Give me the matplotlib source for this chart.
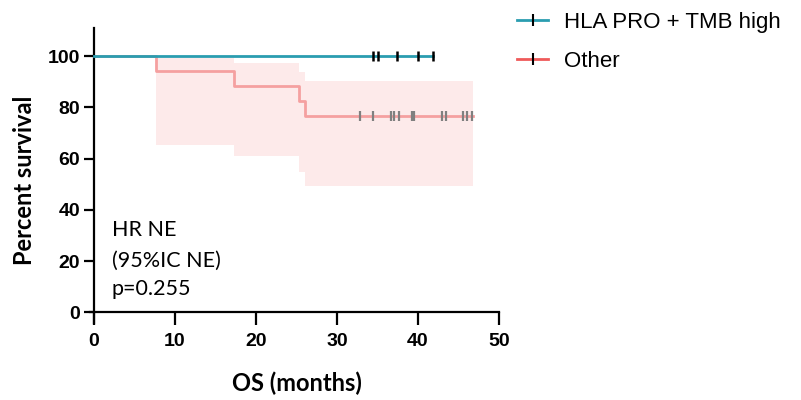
import matplotlib
matplotlib.use("Agg")
import matplotlib.pyplot as plt
from matplotlib.lines import Line2D

# Kaplan-Meier data
hla_times = [0, 41.9]
hla_surv = [100, 100]
hla_censor = [34.5, 35.0, 37.4, 40.0, 41.9]

other_times = [0, 7.7, 17.3, 25.3, 26.0, 46.8]
other_surv = [100, 94.1, 88.2, 82.4, 76.5, 76.5]
other_censor = [32.8, 34.5, 36.7, 37.0, 37.7, 39.3, 39.5, 43.0, 43.5, 45.6, 46.0, 46.7]

ci_times = [7.7, 17.3, 25.3, 26.0, 46.8]
ci_upper = [99.2, 97.2, 94.0, 90.5, 90.5]
ci_lower = [65.2, 61.0, 54.9, 49.3, 49.3]

labels = ["HLA PRO + TMB high", "Other"]
stats_text = ["HR NE", "(95%IC NE)", "p=0.255"]
xticks = [0, 10, 20, 30, 40, 50]
yticks = [0, 20, 40, 60, 80, 100]

blue = "#2a9db0"
red_line = "#f5a0a0"
red_leg = "#ef5a5a"
band = "#fdeaea"

fig = plt.figure(figsize=(8.01, 4.0), dpi=100)
ax = fig.add_axes([90 / 801, 1 - 322.7 / 400, 409 / 801, 294.7 / 400])

# confidence band + curves
ax.fill_between(ci_times, ci_lower, ci_upper, step="post", color=band, lw=0, zorder=1)
ax.step(other_times, other_surv, where="post", color=red_line, lw=2, zorder=2)
ax.step(hla_times, hla_surv, where="post", color=blue, lw=2, zorder=3)
ax.plot(other_censor, [other_surv[-1]] * len(other_censor), ls="none", marker="|",
        ms=6.5, mew=1.6, color="#808080", zorder=4)
ax.plot(hla_censor, [hla_surv[-1]] * len(hla_censor), ls="none", marker="|",
        ms=6.5, mew=1.8, color="black", zorder=4)

ax.set_xlim(-0.5, 50)
ax.set_ylim(-4, 111)
ax.spines["left"].set_position(("data", 0))
ax.spines["bottom"].set_position(("data", 0))
for s in ["top", "right"]:
    ax.spines[s].set_visible(False)
for s in ["left", "bottom"]:
    ax.spines[s].set_linewidth(1.6)
ax.set_xticks(xticks)
ax.set_yticks(yticks)
ax.tick_params(width=1.6, labelsize=14)
ax.tick_params(axis="x", length=9, pad=6)
ax.tick_params(axis="y", length=7, pad=3)
for lab in ax.get_xticklabels() + ax.get_yticklabels():
    lab.set_fontfamily("Liberation Sans")
    lab.set_fontweight("bold")

for i, t in enumerate(stats_text):
    ax.text(2.2, [29.7, 17.6, 7.0][i], t, fontsize=15.5, family="Lato", va="baseline", ha="left")

fig.text(25 / 801, 1 - 180 / 400, "Percent survival", rotation=90, ha="center", va="center",
         fontsize=17, family="Lato", fontweight="bold")
fig.text(297 / 801, 1 - 383 / 400, "OS (months)", ha="center", va="center",
         fontsize=17, family="Lato", fontweight="bold")

handles = [
    Line2D([], [], color=blue, lw=2, marker="|", mec="black", ms=8, mew=1.5),
    Line2D([], [], color=red_leg, lw=2, marker="|", mec="black", ms=8, mew=1.5),
]
fig.legend(handles, labels, loc="upper left", bbox_to_anchor=(517 / 801, 0.97),
           frameon=False, borderpad=0, borderaxespad=0, handlelength=1.4,
           handletextpad=0.7, labelspacing=0.82,
           prop={"family": "Liberation Sans", "size": 16})

fig.savefig("out.png", dpi=100)
